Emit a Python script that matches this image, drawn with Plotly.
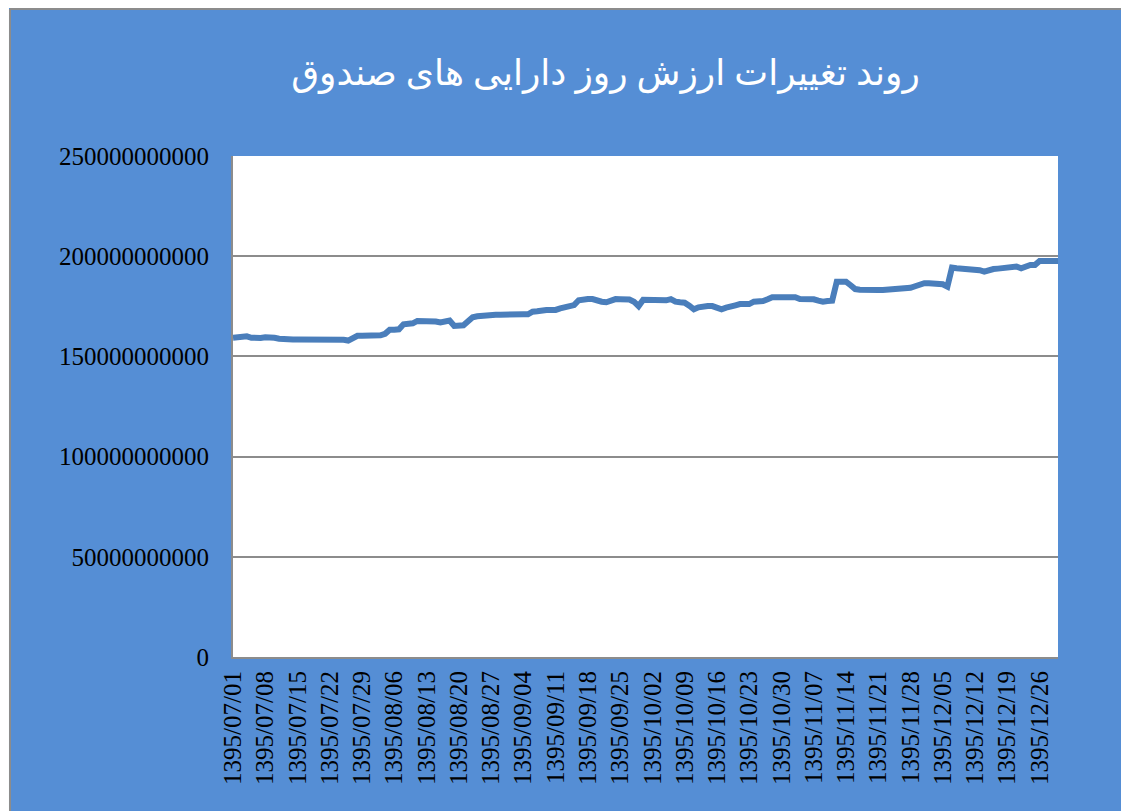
import plotly.graph_objects as go

# Categories: Persian calendar dates 1395/07/01 .. 1395/12/30
year = 1395
months = [7, 8, 9, 10, 11, 12]
days_in_month = 30

# Daily fund net asset value (billions of rials)
mehr = [159.3, 159.5, 160.3, 160.0, 159.3, 159.0, 159.2, 159.5, 159.7, 159.3,
        158.8, 158.5, 158.5, 158.4, 158.4, 158.4, 158.4, 158.4, 158.7, 159.0,
        159.0, 159.0, 159.0, 159.0, 158.3, 157.9, 159.0, 160.3, 160.3, 160.3]
aban = [160.0, 159.8, 160.5, 161.3, 163.3, 163.3, 163.5, 166.0, 166.2, 166.5,
        167.7, 167.7, 167.6, 167.5, 167.4, 166.9, 167.5, 167.9, 165.2, 165.3,
        165.5, 167.5, 169.5, 170.0, 170.3, 170.8, 170.8, 170.8, 170.8, 170.7]
azar = [170.8, 170.9, 171.0, 171.0, 171.0, 172.3, 172.5, 173.2, 173.2, 173.2,
        173.2, 174.0, 174.5, 175.0, 175.6, 178.0, 178.6, 178.6, 178.6, 177.6,
        177.3, 177.0, 178.0, 178.6, 178.5, 178.4, 178.4, 177.3, 175.1, 178.3]
dey = [178.1, 178.1, 178.1, 177.6, 178.0, 178.6, 177.3, 177.0, 176.8, 175.3,
       173.5, 174.5, 175.1, 175.1, 175.1, 174.5, 173.5, 174.3, 174.6, 175.5,
       176.1, 176.1, 176.1, 177.3, 177.4, 177.6, 178.5, 179.5, 179.5, 179.6]
bahman = [179.8, 179.6, 179.5, 178.6, 178.8, 179.0, 178.5, 177.8, 177.3, 177.6,
          177.8, 187.3, 187.3, 187.3, 185.5, 183.6, 183.3, 183.1, 183.1, 183.1,
          183.1, 183.1, 183.2, 183.4, 183.8, 184.0, 184.1, 184.2, 185.0, 186.0]
esfand = [186.5, 186.5, 186.4, 186.1, 186.0, 184.8, 194.3, 194.0, 193.8, 193.6,
          193.6, 193.6, 193.0, 192.3, 193.3, 193.6, 193.8, 194.0, 194.0, 194.5,
          194.8, 194.0, 195.0, 195.6, 195.6, 197.6, 197.6, 197.6, 197.6, 197.6]

y_tick_vals = [0, 50000000000, 100000000000, 150000000000, 200000000000, 250000000000]
y_tick_text = ["0", "50000000000", "100000000000", "150000000000", "200000000000", "250000000000"]

dates = [f"{year}/{m:02d}/{d:02d}" for m in months for d in range(1, days_in_month + 1)]
values_bn = mehr + aban + azar + dey + bahman + esfand
values = [v * 1e9 for v in values_bn]
x_tick_vals = dates[::7]

BG = "#558ED5"
LINE = "#4A7EBB"
GRID = "#8C8C8C"

fig = go.Figure()
fig.add_trace(go.Scatter(
    x=dates, y=values, mode="lines",
    line=dict(color=LINE, width=6, shape="linear"),
    hoverinfo="x+y", showlegend=False,
))

fig.update_layout(
    width=1121, height=803,
    paper_bgcolor=BG, plot_bgcolor="white",
    margin=dict(l=225, r=71, t=148, b=154, autoexpand=False),
    title=dict(
        text="روند تغییرات ارزش روز دارایی های صندوق",
        x=0.533, xanchor="center", y=0.92, yanchor="middle",
        font=dict(family="Liberation Serif, DejaVu Serif, DejaVu Sans", size=36, color="white"),
    ),
    xaxis=dict(
        type="category", range=[0, len(dates) - 1],
        tickmode="array", tickvals=x_tick_vals, ticktext=x_tick_vals,
        tickangle=-90, ticks="", ticklabelstandoff=2,
        showgrid=False, showline=True, linecolor=GRID, linewidth=2,
        tickfont=dict(family="Liberation Serif", size=25, color="black"),
        zeroline=False,
    ),
    yaxis=dict(
        range=[0, 250000000000],
        tickmode="array", tickvals=y_tick_vals, ticktext=y_tick_text,
        ticks="", ticklabelstandoff=17,
        showgrid=True, gridcolor=GRID, gridwidth=1.5,
        showline=True, linecolor=GRID, linewidth=2,
        zeroline=False,
        tickfont=dict(family="Liberation Serif", size=25, color="black"),
    ),
    shapes=[
        dict(type="rect", xref="paper", yref="paper",
             x0=-0.2727, x1=-0.2715, y0=-0.40, y1=1.32,
             fillcolor="white", line=dict(width=0), layer="above"),
        dict(type="line", xref="paper", yref="paper",
             x0=-0.2703, x1=-0.2703, y0=-0.40, y1=1.2934,
             line=dict(color=GRID, width=2)),
        dict(type="line", xref="paper", yref="paper",
             x0=-0.2703, x1=1.2, y0=1.2934, y1=1.2934,
             line=dict(color=GRID, width=2)),
    ],
)

fig.write_html("out.html")
